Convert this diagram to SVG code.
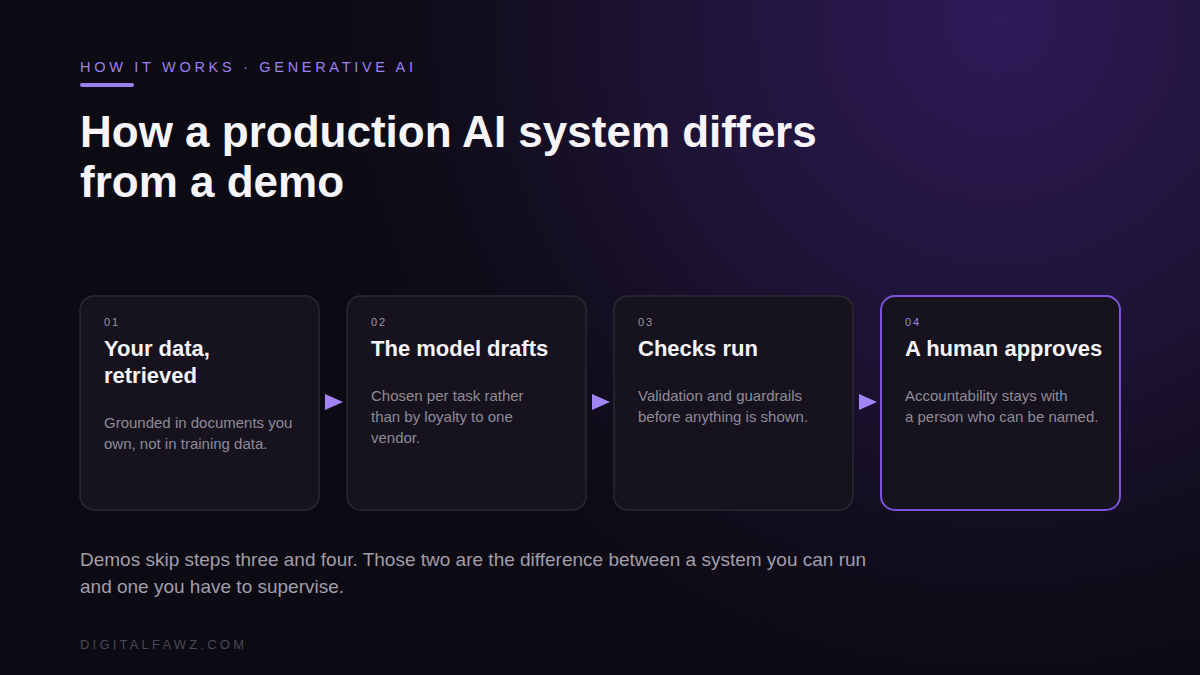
<svg xmlns="http://www.w3.org/2000/svg" width="1200" height="675" viewBox="0 0 1200 675">
<defs>
<radialGradient id="glow" cx="1000" cy="20" r="800" gradientUnits="userSpaceOnUse">
<stop offset="0" stop-color="#2f1a5a"/>
<stop offset="0.45" stop-color="#1f1438" stop-opacity="0.85"/>
<stop offset="1" stop-color="#0c0a12" stop-opacity="0"/>
</radialGradient>
<style>
.eyebrow{font-family:"Liberation Sans",Arial,sans-serif;font-size:14.5px;letter-spacing:3.7px;fill:#9b80f2}
.title{font-family:"Liberation Sans",Arial,sans-serif;font-size:44px;font-weight:bold;fill:#f7f5fa}
.card{fill:#16131e;stroke:#2b2833;stroke-width:1.5}
.card.hl{stroke:#7d52d9;stroke-width:2}
.num{font-family:"Liberation Sans",Arial,sans-serif;font-size:11px;letter-spacing:2px;fill:#9a96a3}
.num.hl{fill:#9b80f2}
.ct{font-family:"Liberation Sans",Arial,sans-serif;font-size:22px;font-weight:bold;fill:#f7f5fa}
.cd{font-family:"Liberation Sans",Arial,sans-serif;font-size:15px;fill:#8f8a99}
.foot{font-family:"Liberation Sans",Arial,sans-serif;font-size:19px;fill:#a29eab}
.brand{font-family:"Liberation Sans",Arial,sans-serif;font-size:13px;letter-spacing:3.2px;fill:#4b4754}
.arrow{fill:#a184f5}
</style>
</defs>
<rect width="1200" height="675" fill="#0c0a12"/>
<rect width="1200" height="675" fill="url(#glow)"/>

<text class="eyebrow" x="80" y="72">HOW IT WORKS · GENERATIVE AI</text>
<rect x="80" y="83" width="54" height="4" rx="2" fill="#9b80f2"/>
<text class="title" x="80" y="147">How a production AI system differs</text>
<text class="title" x="80" y="197">from a demo</text>

<g id="connectors">
<polygon class="arrow" points="325,394 343,402 325,410"/>
<polygon class="arrow" points="592,394 610,402 592,410"/>
<polygon class="arrow" points="859,394 877,402 859,410"/>
</g>

<g id="step1">
<rect class="card" x="80" y="296" width="239" height="214" rx="14"/>
<text class="num" x="104" y="326">01</text>
<text class="ct" x="104" y="356">Your data,</text>
<text class="ct" x="104" y="383">retrieved</text>
<text class="cd" x="104" y="428">Grounded in documents you</text>
<text class="cd" x="104" y="449">own, not in training data.</text>
</g>
<g id="step2">
<rect class="card" x="347" y="296" width="239" height="214" rx="14"/>
<text class="num" x="371" y="326">02</text>
<text class="ct" x="371" y="356">The model drafts</text>
<text class="cd" x="371" y="401">Chosen per task rather</text>
<text class="cd" x="371" y="422">than by loyalty to one</text>
<text class="cd" x="371" y="443">vendor.</text>
</g>
<g id="step3">
<rect class="card" x="614" y="296" width="239" height="214" rx="14"/>
<text class="num" x="638" y="326">03</text>
<text class="ct" x="638" y="356">Checks run</text>
<text class="cd" x="638" y="401">Validation and guardrails</text>
<text class="cd" x="638" y="422">before anything is shown.</text>
</g>
<g id="step4">
<rect class="card hl" x="881" y="296" width="239" height="214" rx="14"/>
<text class="num hl" x="905" y="326">04</text>
<text class="ct" x="905" y="356">A human approves</text>
<text class="cd" x="905" y="401">Accountability stays with</text>
<text class="cd" x="905" y="422">a person who can be named.</text>
</g>

<text class="foot" x="80" y="566">Demos skip steps three and four. Those two are the difference between a system you can run</text>
<text class="foot" x="80" y="593">and one you have to supervise.</text>
<text class="brand" x="80" y="649">DIGITALFAWZ.COM</text>
</svg>
